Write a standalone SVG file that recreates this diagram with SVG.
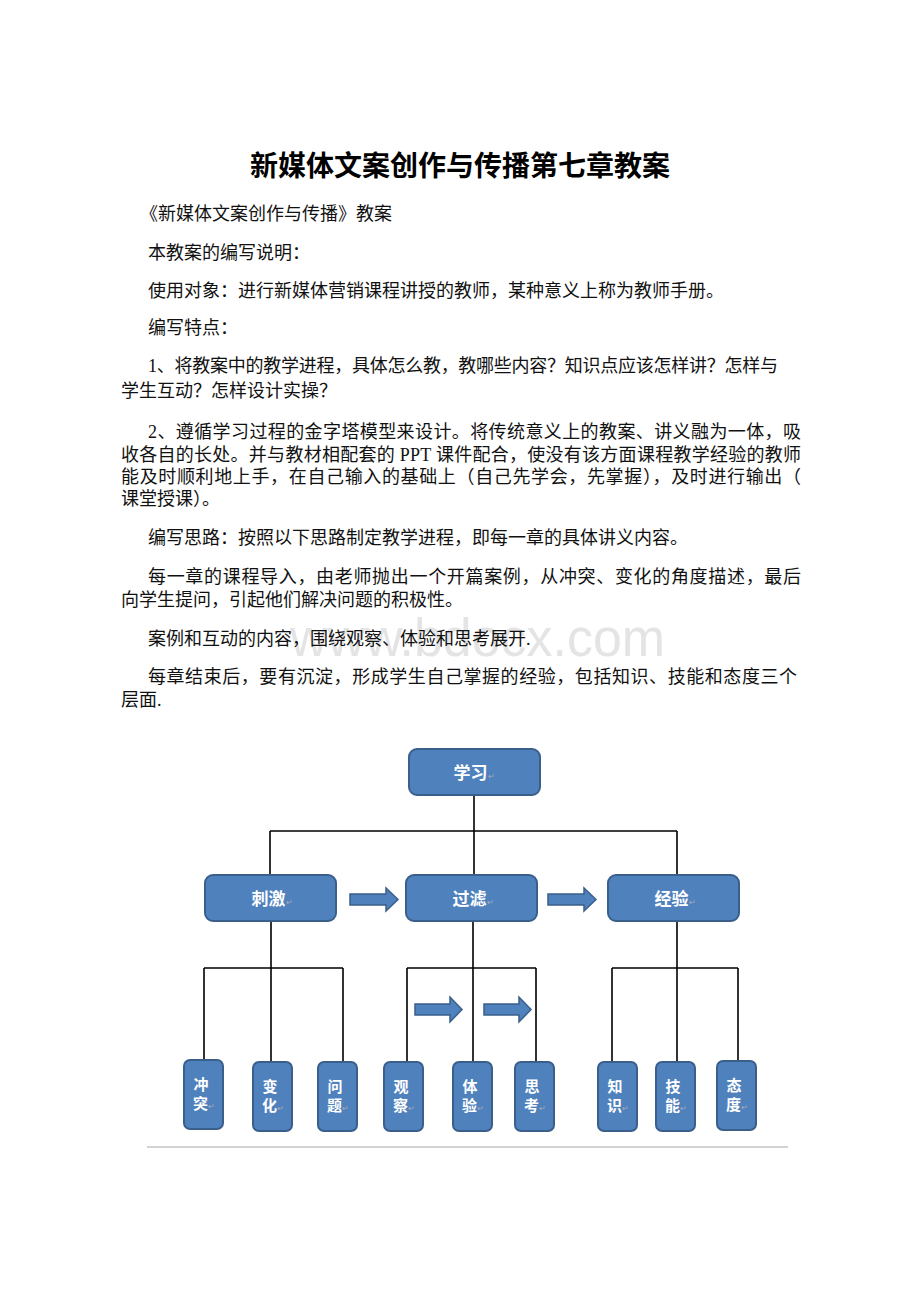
<svg xmlns="http://www.w3.org/2000/svg" width="920" height="1302" viewBox="0 0 920 1302">
<style>
.t{font-family:"Liberation Serif","Noto Sans CJK SC",serif;font-size:18px;fill:#111}
.title{font-family:"Noto Sans CJK SC",sans-serif;font-size:28px;font-weight:bold;fill:#000}
.wm{font-family:"Liberation Sans",sans-serif;font-size:54px;fill:#e4e4e4}
.box{fill:#4F81BD;stroke:#3A5F8B;stroke-width:2}
.lbl{font-family:"Noto Sans CJK SC",sans-serif;font-size:17px;font-weight:bold;fill:#fff;text-anchor:middle}
.vl{font-family:"Noto Sans CJK SC",sans-serif;font-size:15px;font-weight:bold;fill:#fff;text-anchor:middle}
.pm{font-size:8px;fill:#aab;font-weight:normal}
.ln{stroke:#000;stroke-width:1.6;fill:none}
.arr{fill:#4F81BD;stroke:#3A5F8B;stroke-width:1.5}
</style>
<rect width="920" height="1302" fill="#fff"/>
<text class="wm" x="290" y="656" textLength="375" lengthAdjust="spacingAndGlyphs">www.bdocx.com</text>
<g id="text">
<text class="title" x="460" y="176" text-anchor="middle">新媒体文案创作与传播第七章教案</text>
<text class="t" x="140" y="220">《新媒体文案创作与传播》教案</text>
<text class="t" x="148" y="259">本教案的编写说明：</text>
<text class="t" x="148" y="297">使用对象：进行新媒体营销课程讲授的教师，某种意义上称为教师手册。</text>
<text class="t" x="148" y="334">编写特点：</text>
<text class="t" x="148" y="372" textLength="630" lengthAdjust="spacing">1、将教案中的教学进程，具体怎么教，教哪些内容？知识点应该怎样讲？怎样与</text>
<text class="t" x="121" y="397">学生互动？怎样设计实操？</text>
<text class="t" x="148" y="438" textLength="653" lengthAdjust="spacing">2、遵循学习过程的金字塔模型来设计。将传统意义上的教案、讲义融为一体，吸</text>
<text class="t" x="121" y="461" textLength="680" lengthAdjust="spacing">收各自的长处。并与教材相配套的 PPT 课件配合，使没有该方面课程教学经验的教师</text>
<text class="t" x="121" y="483" textLength="680" lengthAdjust="spacing">能及时顺利地上手，在自己输入的基础上（自己先学会，先掌握），及时进行输出（</text>
<text class="t" x="121" y="505">课堂授课）。</text>
<text class="t" x="148" y="544">编写思路：按照以下思路制定教学进程，即每一章的具体讲义内容。</text>
<text class="t" x="148" y="583" textLength="653" lengthAdjust="spacing">每一章的课程导入，由老师抛出一个开篇案例，从冲突、变化的角度描述，最后</text>
<text class="t" x="121" y="606">向学生提问，引起他们解决问题的积极性。</text>
<text class="t" x="148" y="645">案例和互动的内容，围绕观察、体验和思考展开.</text>
<text class="t" x="148" y="683" textLength="649" lengthAdjust="spacing">每章结束后，要有沉淀，形成学生自己掌握的经验，包括知识、技能和态度三个</text>
<text class="t" x="121" y="706">层面.</text>
</g>
<g id="connectors">
<path class="ln" d="M474 795V875M270 831H677M270 831V875M677 831V875"/>
<path class="ln" d="M271 920V1062M204 968H343M204 968V1060M343 968V1062"/>
<path class="ln" d="M473 920V1062M407 968H536M407 968V1062M536 968V1062"/>
<path class="ln" d="M677 920V1062M612 968H738M612 968V1075M738 968V1061"/>
<path class="arr" d="M350 894H386V888L398 899.5L386 911V905H350Z"/>
<path class="arr" d="M548 894H584V888L596 899.5L584 911V905H548Z"/>
<path class="arr" d="M415 1004H450V997L462 1009.5L450 1022V1015H415Z"/>
<path class="arr" d="M484 1004H519V997L531 1009.5L519 1022V1015H484Z"/>
</g>
<g id="n-xuexi"><rect class="box" x="409" y="749" width="131" height="46" rx="8"/><text class="lbl" x="474" y="779">学习<tspan class="pm">↵</tspan></text></g>
<g id="n-ciji"><rect class="box" x="205" y="875" width="131" height="46" rx="8"/><text class="lbl" x="272" y="905">刺激<tspan class="pm">↵</tspan></text></g>
<g id="n-guolv"><rect class="box" x="406" y="875" width="131" height="46" rx="8"/><text class="lbl" x="473" y="905">过滤<tspan class="pm">↵</tspan></text></g>
<g id="n-jingyan"><rect class="box" x="608" y="875" width="131" height="46" rx="8"/><text class="lbl" x="675" y="905">经验<tspan class="pm">↵</tspan></text></g>
<g id="n-chongtu"><rect class="box" x="184" y="1060" width="39" height="69" rx="6"/><text class="vl" x="201" y="1090">冲</text><text class="vl" x="204" y="1109">突<tspan class="pm">↵</tspan></text></g>
<g id="n-bianhua"><rect class="box" x="253" y="1062" width="39" height="69" rx="6"/><text class="vl" x="270" y="1092">变</text><text class="vl" x="273" y="1111">化<tspan class="pm">↵</tspan></text></g>
<g id="n-wenti"><rect class="box" x="318" y="1062" width="39" height="69" rx="6"/><text class="vl" x="335" y="1092">问</text><text class="vl" x="338" y="1111">题<tspan class="pm">↵</tspan></text></g>
<g id="n-guancha"><rect class="box" x="384" y="1062" width="39" height="69" rx="6"/><text class="vl" x="401" y="1092">观</text><text class="vl" x="404" y="1111">察<tspan class="pm">↵</tspan></text></g>
<g id="n-tiyan"><rect class="box" x="453" y="1062" width="39" height="69" rx="6"/><text class="vl" x="470" y="1092">体</text><text class="vl" x="473" y="1111">验<tspan class="pm">↵</tspan></text></g>
<g id="n-sikao"><rect class="box" x="515" y="1062" width="39" height="69" rx="6"/><text class="vl" x="532" y="1092">思</text><text class="vl" x="535" y="1111">考<tspan class="pm">↵</tspan></text></g>
<g id="n-zhishi"><rect class="box" x="598" y="1062" width="39" height="69" rx="6"/><text class="vl" x="615" y="1092">知</text><text class="vl" x="618" y="1111">识<tspan class="pm">↵</tspan></text></g>
<g id="n-jineng"><rect class="box" x="656" y="1062" width="39" height="69" rx="6"/><text class="vl" x="673" y="1092">技</text><text class="vl" x="676" y="1111">能<tspan class="pm">↵</tspan></text></g>
<g id="n-taidu"><rect class="box" x="717" y="1061" width="39" height="69" rx="6"/><text class="vl" x="734" y="1091">态</text><text class="vl" x="737" y="1110">度<tspan class="pm">↵</tspan></text></g>
<line x1="147" y1="1147" x2="788" y2="1147" stroke="#c4c4c4" stroke-width="1.5"/>
</svg>
